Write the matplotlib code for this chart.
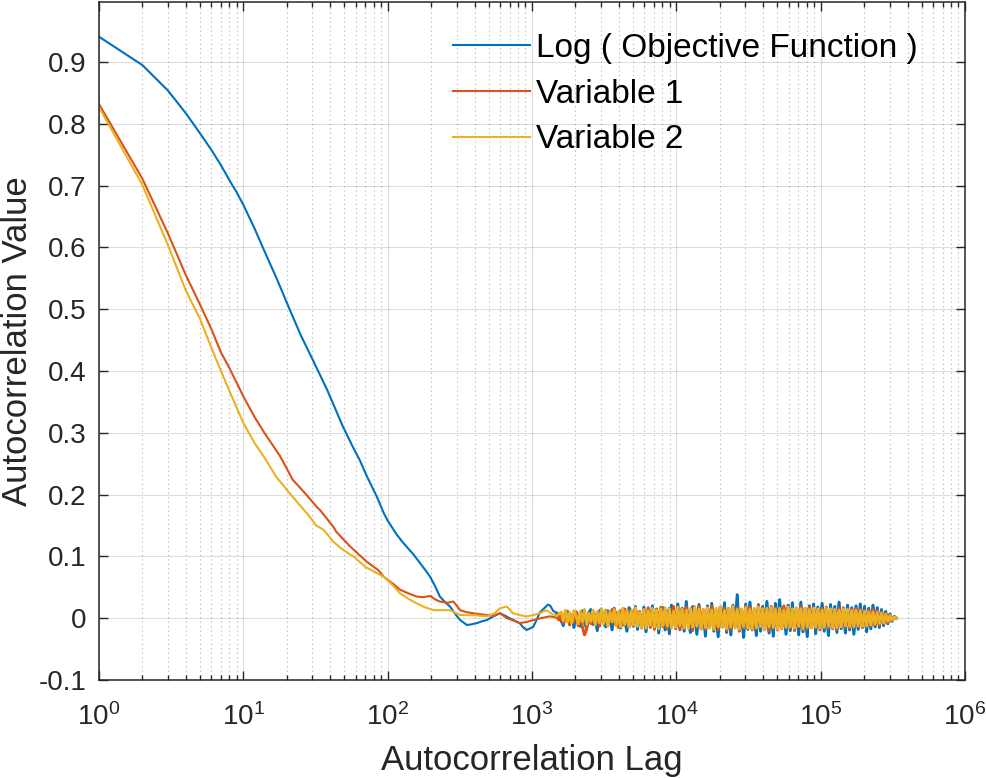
import matplotlib
matplotlib.use("Agg")
import matplotlib.pyplot as plt
from matplotlib.ticker import FixedLocator, NullFormatter, FixedFormatter

plt.rcParams['font.family'] = ['Liberation Sans', 'DejaVu Sans']
plt.rcParams['mathtext.fontset'] = 'custom'
plt.rcParams['mathtext.rm'] = 'Liberation Sans'
plt.rcParams['mathtext.it'] = 'Liberation Sans'
plt.rcParams['mathtext.default'] = 'regular'

# ---------------- data ----------------
series_names = ["Log ( Objective Function )", "Variable 1", "Variable 2"]
series_colors = ["#0072BD", "#D95319", "#EDB120"]

# smooth (head) part
obj_head_lags = [1, 2, 3, 4, 5, 6, 7, 8, 9, 10, 12, 14, 17, 21, 25, 30, 38, 49, 58, 64,
                 72, 84, 94, 100, 115, 125, 135, 150, 168, 185, 197, 215, 230, 250, 270,
                 300, 318, 354, 380, 415, 450, 487, 540, 600, 650, 700, 760, 822, 870, 920,
                 1020, 1080, 1130, 1200, 1290, 1340, 1400, 1490]
obj_head_vals = [0.941, 0.895, 0.854, 0.817, 0.785, 0.758, 0.733, 0.709, 0.689, 0.669,
                 0.630, 0.594, 0.550, 0.499, 0.458, 0.420, 0.370, 0.310, 0.275, 0.256,
                 0.229, 0.197, 0.170, 0.158, 0.136, 0.125, 0.116, 0.104, 0.089, 0.076,
                 0.067, 0.050, 0.035, 0.026, 0.019, 0.004, -0.003, -0.011, -0.010, -0.008,
                 -0.005, -0.003, 0.003, 0.008, 0.004, 0.000, -0.004, -0.008, -0.015, -0.019,
                 -0.014, -0.002, 0.009, 0.015, 0.022, 0.020, 0.012, 0.008]

var1_head_lags = [1, 2, 3, 4, 5, 6, 7, 8, 10, 12, 14, 18, 22, 25, 28, 32, 34, 42, 44, 55,
                  72, 86, 94, 110, 122, 140, 159, 175, 197, 215, 230, 260, 285, 318, 350,
                  391, 487, 540, 600, 670, 750, 822, 920, 1020, 1150, 1330, 1490]
var1_head_vals = [0.832, 0.711, 0.623, 0.555, 0.508, 0.468, 0.430, 0.405, 0.359, 0.325,
                  0.300, 0.262, 0.224, 0.210, 0.197, 0.181, 0.175, 0.148, 0.140, 0.116,
                  0.091, 0.078, 0.067, 0.055, 0.046, 0.040, 0.035, 0.034, 0.036, 0.030,
                  0.027, 0.025, 0.027, 0.013, 0.010, 0.008, 0.005, 0.004, 0.008, 0.000,
                  -0.004, -0.008, -0.006, -0.003, 0.000, 0.003, 0.001]

var2_head_lags = [1, 2, 3, 4, 5, 6, 7, 8, 10, 12, 14, 17, 21, 25, 28, 32, 36, 42, 47, 55,
                  58, 70, 94, 110, 122, 140, 159, 180, 208, 270, 318, 391, 487, 550, 600,
                  670, 740, 820, 920, 1020, 1130, 1260, 1400, 1490]
var2_head_vals = [0.827, 0.701, 0.604, 0.530, 0.485, 0.438, 0.400, 0.368, 0.316, 0.283,
                  0.260, 0.228, 0.202, 0.181, 0.168, 0.150, 0.143, 0.124, 0.114, 0.103,
                  0.100, 0.083, 0.067, 0.052, 0.040, 0.031, 0.024, 0.018, 0.013, 0.013,
                  0.005, 0.005, 0.003, 0.008, 0.016, 0.019, 0.008, 0.005, 0.003, 0.005,
                  0.008, 0.013, 0.006, 0.004]

# noisy (tail) part, sampled lags
tail_lags = [1540, 1593, 1648, 1705, 1763, 1824, 1887, 1952, 2019, 2088,
             2160, 2234, 2311, 2391, 2473, 2558, 2646, 2737, 2831, 2929,
             3030, 3134, 3242, 3353, 3469, 3588, 3712, 3839, 3971, 4108,
             4249, 4396, 4547, 4703, 4865, 5033, 5206, 5385, 5570, 5762,
             5960, 6165, 6378, 6597, 6824, 7059, 7302, 7553, 7813, 8082,
             8360, 8648, 8945, 9253, 9571, 9901, 10240, 10590, 10960, 11330,
             11720, 12130, 12540, 12980, 13420, 13880, 14360, 14860, 15370, 15900,
             16440, 17010, 17600, 18200, 18830, 19480, 20150, 20840, 21560, 22300,
             23070, 23860, 24680, 25530, 26410, 27320, 28260, 29240, 30240, 31280,
             32360, 33480, 34630, 35820, 37050, 38330, 39650, 41010, 42420, 43880,
             45390, 46960, 48570, 50240, 51970, 53760, 55610, 57530, 59510, 61560,
             63680, 65870, 68140, 70480, 72910, 75420, 78010, 80700, 83470, 86350,
             89320, 92390, 95570, 98860, 102300, 105800, 109400, 113200, 117100, 121100,
             125300, 129600, 134100, 138700, 143500, 148400, 153500, 158800, 164300, 169900,
             175800, 181800, 188100, 194500, 201200, 208200, 215300, 222700, 230400, 238400,
             246600, 255100, 263900, 272900, 282300, 292000, 302100, 312500, 323300, 334400]

obj_tail_vals = [0.006, -0.004, -0.012, 0.008, 0.011, -0.009, 0.004, -0.015, 0.010, 0.002,
                 -0.013, 0.012, -0.006, -0.017, 0.009, 0.014, -0.010, 0.006, -0.020, 0.011,
                 0.015, -0.008, -0.014, 0.012, 0.003, -0.019, 0.016, -0.011, 0.008, -0.016,
                 0.013, -0.004, -0.021, 0.017, 0.009, -0.013, 0.019, -0.018, 0.006, -0.012,
                 0.018, -0.022, 0.011, -0.007, 0.020, -0.016, 0.014, -0.024, 0.010, 0.017,
                 -0.019, 0.012, -0.025, 0.021, 0.006, -0.017, 0.023, -0.014, 0.016, -0.021,
                 0.027, -0.012, -0.023, 0.019, 0.008, -0.026, 0.022, -0.017, 0.013, -0.029,
                 0.020, -0.015, 0.024, -0.021, 0.011, -0.030, 0.018, -0.009, 0.025, -0.023,
                 0.016, -0.027, 0.021, -0.014, 0.038, -0.020, 0.012, -0.031, 0.023, -0.018,
                 0.026, -0.016, 0.010, -0.028, 0.022, -0.021, 0.019, -0.013, 0.027, -0.024,
                 0.014, -0.029, 0.024, -0.018, 0.030, -0.015, 0.017, -0.026, 0.021, -0.020,
                 0.025, -0.017, 0.012, -0.027, 0.026, -0.022, 0.016, -0.030, 0.020, -0.014,
                 0.023, -0.025, 0.018, -0.012, 0.024, -0.021, 0.015, -0.028, 0.022, -0.016,
                 0.019, -0.023, 0.026, -0.017, 0.013, -0.024, 0.021, -0.019, 0.017, -0.026,
                 0.020, -0.018, 0.023, -0.015, 0.019, -0.022, 0.016, -0.017, 0.021, -0.014,
                 0.017, -0.015, 0.014, -0.012, 0.011, -0.009, 0.007, -0.005, 0.003, 0.000]

var1_tail_vals = [-0.003, 0.006, -0.008, 0.002, 0.009, -0.011, 0.005, -0.006, 0.010, -0.012,
                  0.007, -0.014, -0.027, -0.018, 0.008, -0.009, 0.012, -0.004, 0.010, -0.013,
                  0.011, -0.007, 0.013, -0.012, 0.004, 0.014, -0.010, 0.009, -0.015, 0.012,
                  -0.011, 0.015, -0.006, -0.014, 0.013, -0.012, 0.016, -0.009, 0.011, -0.016,
                  0.014, -0.010, 0.017, -0.015, 0.008, -0.018, 0.015, -0.012, 0.018, -0.014,
                  0.012, -0.017, 0.016, -0.011, 0.019, -0.016, 0.010, -0.019, 0.015, -0.013,
                  0.018, -0.015, 0.013, -0.020, 0.016, -0.012, 0.019, -0.017, 0.014, -0.018,
                  0.017, -0.013, 0.020, -0.016, 0.012, -0.019, 0.018, -0.014, 0.016, -0.020,
                  0.015, -0.017, 0.019, -0.013, 0.017, -0.021, 0.014, -0.016, 0.020, -0.015,
                  0.018, -0.019, 0.013, -0.017, 0.021, -0.014, 0.016, -0.018, 0.015, -0.020,
                  0.019, -0.015, 0.017, -0.019, 0.014, -0.017, 0.020, -0.013, 0.018, -0.016,
                  0.015, -0.020, 0.016, -0.014, 0.019, -0.018, 0.013, -0.017, 0.018, -0.015,
                  0.017, -0.016, 0.014, -0.019, 0.016, -0.013, 0.018, -0.016, 0.015, -0.017,
                  0.014, -0.018, 0.016, -0.013, 0.017, -0.015, 0.013, -0.016, 0.015, -0.014,
                  0.016, -0.013, 0.014, -0.015, 0.012, -0.014, 0.013, -0.012, 0.014, -0.011,
                  0.012, -0.011, 0.010, -0.009, 0.008, -0.007, 0.005, -0.004, 0.002, 0.000]

var2_tail_vals = [0.007, 0.010, -0.004, 0.013, -0.006, 0.009, -0.008, 0.012, 0.004, -0.009,
                  0.011, -0.006, 0.014, -0.010, 0.008, -0.005, 0.013, -0.011, 0.010, -0.007,
                  0.015, -0.009, 0.012, -0.013, 0.010, -0.006, 0.014, -0.012, 0.011, -0.014,
                  0.016, -0.010, 0.013, -0.015, 0.012, -0.011, 0.017, -0.013, 0.009, -0.015,
                  0.014, -0.016, 0.012, -0.011, 0.016, -0.014, 0.013, -0.017, 0.015, -0.012,
                  0.017, -0.013, 0.015, -0.016, 0.011, -0.015, 0.018, -0.012, 0.014, -0.016,
                  0.013, -0.017, 0.016, -0.014, 0.019, -0.013, 0.015, -0.018, 0.014, -0.015,
                  0.017, -0.016, 0.013, -0.018, 0.016, -0.014, 0.018, -0.015, 0.012, -0.017,
                  0.016, -0.014, 0.019, -0.016, 0.014, -0.018, 0.015, -0.013, 0.017, -0.016,
                  0.014, -0.017, 0.016, -0.015, 0.018, -0.013, 0.015, -0.017, 0.016, -0.014,
                  0.017, -0.015, 0.014, -0.018, 0.016, -0.016, 0.013, -0.015, 0.018, -0.014,
                  0.015, -0.016, 0.017, -0.013, 0.015, -0.017, 0.016, -0.014, 0.014, -0.016,
                  0.016, -0.014, 0.015, -0.016, 0.013, -0.015, 0.016, -0.013, 0.015, -0.015,
                  0.014, -0.015, 0.013, -0.014, 0.015, -0.012, 0.014, -0.013, 0.012, -0.014,
                  0.013, -0.012, 0.012, -0.013, 0.011, -0.012, 0.010, -0.011, 0.010, -0.009,
                  0.009, -0.008, 0.008, -0.007, 0.006, -0.005, 0.004, -0.003, 0.002, 0.000]

x_ticks = [1, 10, 100, 1000, 10000, 100000, 1000000]
x_tick_labels = ["$10^{0}$", "$10^{1}$", "$10^{2}$", "$10^{3}$", "$10^{4}$", "$10^{5}$", "$10^{6}$"]
y_ticks = [-0.1, 0, 0.1, 0.2, 0.3, 0.4, 0.5, 0.6, 0.7, 0.8, 0.9]
y_tick_labels = ["-0.1", "0", "0.1", "0.2", "0.3", "0.4", "0.5", "0.6", "0.7", "0.8", "0.9"]
x_label = "Autocorrelation Lag"
y_label = "Autocorrelation Value"

# ---------------- plot ----------------
ink = "#262626"
W, H = 987, 778
fig = plt.figure(figsize=(W / 100, H / 100), dpi=100)
ax = fig.add_axes([99 / W, 1 - 680 / H, (965 - 99) / W, (680 - 1.5) / H])

head_lags = [obj_head_lags, var1_head_lags, var2_head_lags]
head_vals = [obj_head_vals, var1_head_vals, var2_head_vals]
tail_vals = [obj_tail_vals, var1_tail_vals, var2_tail_vals]

for name, col, hx, hy, ty in zip(series_names, series_colors, head_lags, head_vals, tail_vals):
    ax.plot(hx + tail_lags, hy + ty, color=col, lw=1.5, label=name)
    # dense noisy tail drawn a bit heavier so it renders as a solid band
    ax.plot(hx[-1:] + tail_lags, hy[-1:] + ty, color=col, lw=2.1)

ax.set_xscale('log')
ax.set_xlim(1, 1e6)
ax.set_ylim(-0.1, 0.998)
ax.yaxis.set_major_locator(FixedLocator(y_ticks))
ax.yaxis.set_major_formatter(FixedFormatter(y_tick_labels))
ax.xaxis.set_major_locator(FixedLocator(x_ticks))
ax.xaxis.set_major_formatter(FixedFormatter(x_tick_labels))
minor_x = [m * d for d in x_ticks[:-1] for m in range(2, 10)]
ax.xaxis.set_minor_locator(FixedLocator(minor_x))
ax.xaxis.set_minor_formatter(NullFormatter())

ax.grid(True, which='major', color=ink, alpha=0.15, lw=0.8, ls='-')
ax.grid(True, which='minor', axis='x', color=ink, alpha=0.35, lw=0.8, ls=(0, (1, 3)))
ax.set_axisbelow(True)

for s in ax.spines.values():
    s.set_color(ink)
    s.set_linewidth(1.1)

ax.tick_params(which='both', direction='in', top=True, right=True, color=ink,
               labelcolor=ink, width=1.0)
ax.tick_params(which='major', length=6.5, labelsize=20)
ax.tick_params(axis='x', which='major', pad=17)
ax.tick_params(axis='y', which='major', pad=9)
ax.tick_params(which='minor', length=3.3)

ax.set_xlabel(x_label, fontsize=25, color=ink, labelpad=9)
ax.set_ylabel(y_label, fontsize=25, color=ink, labelpad=3.5)

leg = ax.legend(loc='upper left', bbox_to_anchor=(453 / W, 1 - 33 / H),
                bbox_transform=fig.transFigure, frameon=False, fontsize=24,
                borderpad=0, borderaxespad=0, handlelength=2.3, handletextpad=0.2,
                labelspacing=0.44)
for t in leg.get_texts():
    t.set_color('black')

fig.savefig("out.png", dpi=100)
